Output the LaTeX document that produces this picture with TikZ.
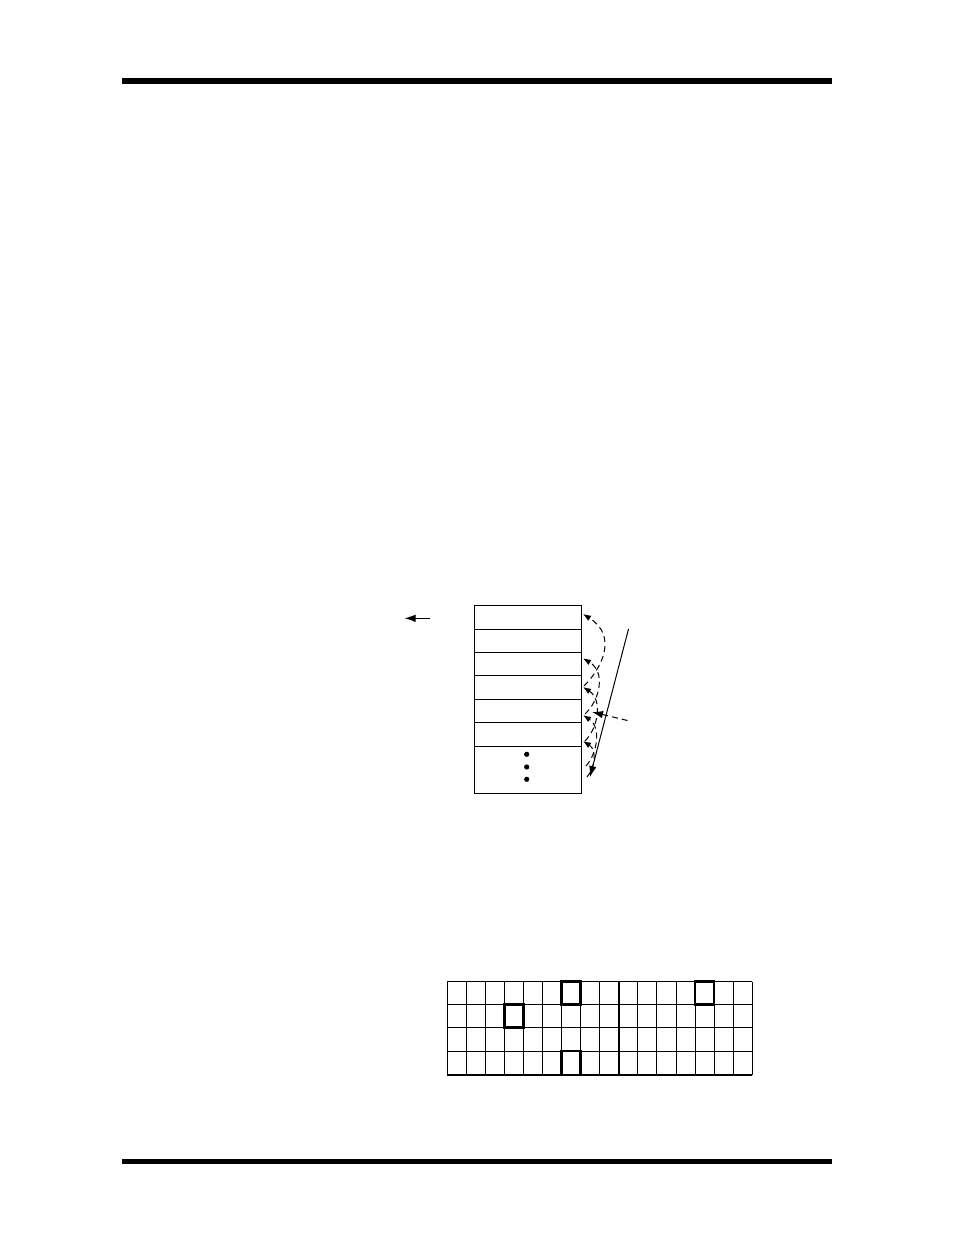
\documentclass[tikz,border=0pt]{standalone}
\usetikzlibrary{arrows.meta}
\begin{document}
\begin{tikzpicture}[x=1pt,y=-1pt,
  thin line/.style={line width=1pt},
  bar/.style={fill=black},
  tip/.style={-{Latex[length=8pt,width=6pt]}},
  bigtip/.style={-{Latex[length=11pt,width=7.5pt]}},
  dashlink/.style={line width=1pt,dash pattern=on 6pt off 4pt,tip},
  hilite/.style={line width=2.6pt}]
\useasboundingbox (0,0) rectangle (954,1235);
% page bars
\fill[bar] (122,78) rectangle (832,84.3);
\fill[bar] (122,1158.6) rectangle (832,1164.2);
% stack
\foreach \t/\b/\n in {605/628.5/r1,628.5/652/r2,652/675.3/r3,675.3/698.5/r4,698.5/722.2/r5,722.2/745.5/r6}{
  \node[draw,thin line,minimum width=106.5pt,minimum height={\b-\t},inner sep=0pt,anchor=north west] (\n) at (474,\t) {};
}
\node[draw,thin line,minimum width=106.5pt,minimum height=47pt,inner sep=0pt,anchor=north west] (r7) at (474,745.5) {};
\draw[line width=1.6pt] (r7.south west) -- (r7.south east);
\fill (526.7,754.3) circle (2.6pt) (526.7,767) circle (2.6pt) (526.7,779.3) circle (2.6pt);
% left arrow
\coordinate (la1) at (429.5,618.3);
\coordinate (la2) at (404.5,618.3);
\draw[thin line,bigtip] (la1) -- (la2);
% long solid arrow
\coordinate (sa1) at (628.5,629);
\coordinate (sa2) at (590,777);
\draw[thin line,bigtip] (sa1) -- (sa2);
% dashed arrow from right
\coordinate (da1) at (627.5,720.5);
\coordinate (da2) at (592,712);
\draw[line width=1pt,dash pattern=on 6pt off 4pt,bigtip] (da1) -- (da2);
% dashed links
\coordinate (t1) at (583,614);
\coordinate (t2) at (583,658.3);
\coordinate (t3) at (583,687);
\coordinate (t4) at (583,715);
\coordinate (t5) at (583,741);
\coordinate (s1) at (584,686);
\coordinate (s2) at (585,714);
\coordinate (s3) at (585,741);
\coordinate (s4) at (586,766);
\coordinate (s5) at (587,777);
\draw[dashlink] (s1) .. controls (602,668) and (618,636) .. (t1);
\draw[dashlink] (s2) .. controls (600,700) and (606,672) .. (t2);
\draw[dashlink] (s3) .. controls (598,728) and (603,700) .. (t3);
\draw[dashlink] (s4) .. controls (598,752) and (601,727) .. (t4);
\draw[dashlink] (s5) .. controls (595,768) and (597,750) .. (t5);
% grid
\foreach \i in {0,...,16}{
  \draw[thin line] ({447.3+\i*19.0625},981.7) -- ({447.3+\i*19.0625},1075);
}
\draw[line width=1.8pt] ({447.3+9*19.0625},981.7) -- ({447.3+9*19.0625},1075);
\foreach \y in {981.7,1004.5,1027.6,1051}{
  \draw[thin line] (447.3,\y) -- (752.3,\y);
}
\draw[line width=1.8pt] (447.3,1075) -- (752.3,1075);
\draw[hilite] ({447.3+6*19.0625},981.7) rectangle ({447.3+7*19.0625},1004.5);
\draw[hilite] ({447.3+13*19.0625},981.7) rectangle ({447.3+14*19.0625},1004.5);
\draw[hilite] ({447.3+3*19.0625},1004.5) rectangle ({447.3+4*19.0625},1027.6);
\draw[hilite] ({447.3+6*19.0625},1051) rectangle ({447.3+7*19.0625},1075);
\end{tikzpicture}
\end{document}
